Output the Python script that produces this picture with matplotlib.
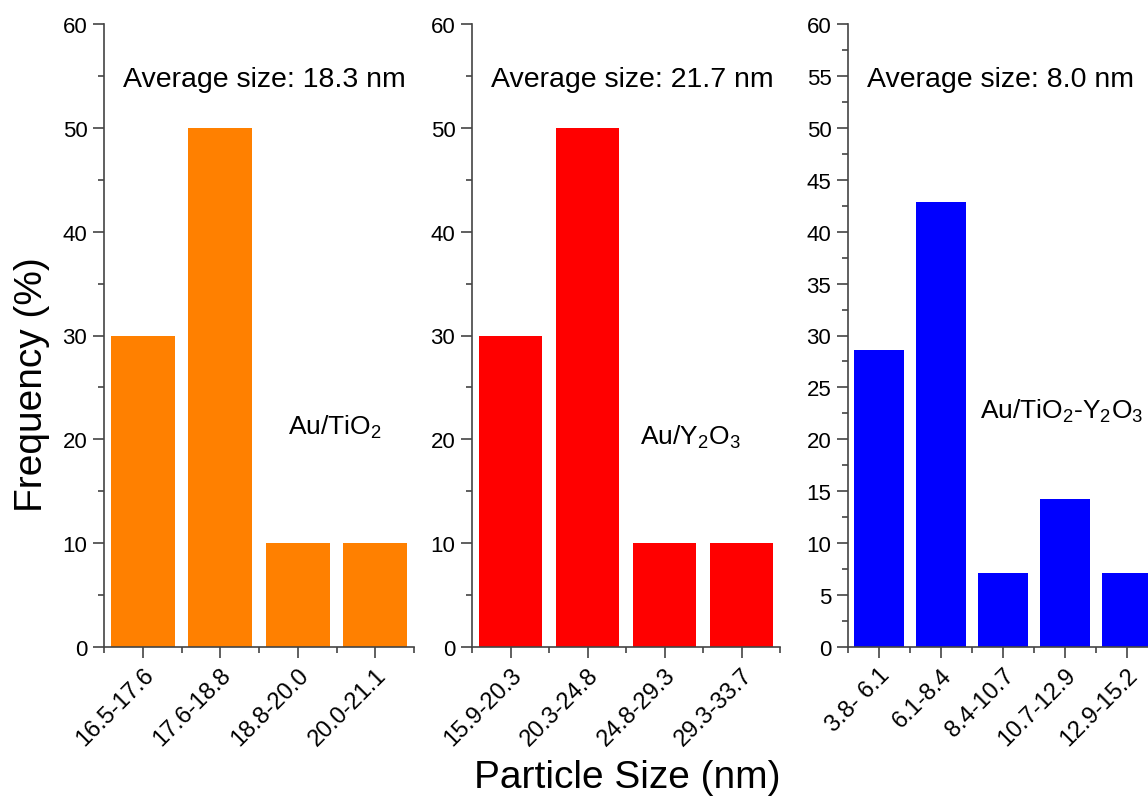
import numpy as np
import matplotlib.pyplot as plt
from matplotlib.ticker import MultipleLocator, FixedLocator

plt.rcParams['font.family'] = ['Liberation Sans', 'DejaVu Sans']
plt.rcParams['mathtext.fontset'] = 'custom'
plt.rcParams['mathtext.rm'] = 'Liberation Sans'

# data
bins_tio2 = ['16.5-17.6', '17.6-18.8', '18.8-20.0', '20.0-21.1']
freq_tio2 = [30, 50, 10, 10]
bins_y2o3 = ['15.9-20.3', '20.3-24.8', '24.8-29.3', '29.3-33.7']
freq_y2o3 = [30, 50, 10, 10]
bins_mix = ['3.8- 6.1', '6.1-8.4', '8.4-10.7', '10.7-12.9', '12.9-15.2']
freq_mix = [28.57, 42.86, 7.14, 14.29, 7.14]

avg_text = ['Average size: 18.3 nm', 'Average size: 21.7 nm', 'Average size: 8.0 nm']
samples = [r'Au/TiO$_\mathregular{2}$', r'Au/Y$_\mathregular{2}$O$_\mathregular{3}$',
           r'Au/TiO$_\mathregular{2}$-Y$_\mathregular{2}$O$_\mathregular{3}$']
colors = ['#FF8000', '#FF0000', '#0000FF']

W, H = 1148, 803
fig = plt.figure(figsize=(W / 100, H / 100), dpi=100)

# pixel boxes: left, width, sample label x (axes frac), sample label y (data)
boxes = [(104, 310, 0.594, 21.3), (472, 308, 0.545, 20.3), (848, 310, 0.426, 22.8)]
top, bot = 25, 648
ymaj = [10, 10, 5]

allbins = [bins_tio2, bins_y2o3, bins_mix]
allfreq = [freq_tio2, freq_y2o3, freq_mix]
axcol = '#444444'

for k in range(3):
    l, w, sx, sy = boxes[k]
    ax = fig.add_axes([l / W, 1 - bot / H, w / W, (bot - top) / H])
    n = len(allbins[k])
    x = np.arange(n)
    ax.bar(x, allfreq[k], width=0.82, color=colors[k])
    ax.set_xlim(-0.5, n - 0.5)
    ax.set_ylim(0, 60)
    for s in ['top', 'right']:
        ax.spines[s].set_visible(False)
    for s in ['left', 'bottom']:
        ax.spines[s].set_color(axcol)
        ax.spines[s].set_linewidth(1.2)
    ax.yaxis.set_major_locator(MultipleLocator(ymaj[k]))
    ax.yaxis.set_minor_locator(MultipleLocator(ymaj[k] / 2))
    ax.set_xticks(x)
    ax.set_xticklabels(allbins[k], rotation=45, ha='right', va='top',
                       rotation_mode='anchor')
    ax.xaxis.set_minor_locator(FixedLocator(np.arange(n + 1) - 0.5))
    ax.tick_params(which='major', direction='out', length=8, width=1.2,
                   color=axcol, labelsize=16, pad=4)
    ax.tick_params(axis='x', which='major', labelsize=17)
    ax.tick_params(which='minor', direction='out', length=4, width=1.2, color=axcol)
    ax.text(19 / w, 54.7, avg_text[k], transform=ax.get_yaxis_transform(),
            fontsize=20.5, va='center', ha='left')
    ax.text(sx, sy, samples[k], transform=ax.get_yaxis_transform(),
            fontsize=19, va='center', ha='left', clip_on=False)

fig.text(32 / W, 1 - 385 / H, 'Frequency (%)', rotation=90, fontsize=28,
         ha='center', va='center')
fig.text(627 / W, 1 - 778 / H, 'Particle Size (nm)', fontsize=28,
         ha='center', va='center')

fig.savefig('out.png', dpi=100)
